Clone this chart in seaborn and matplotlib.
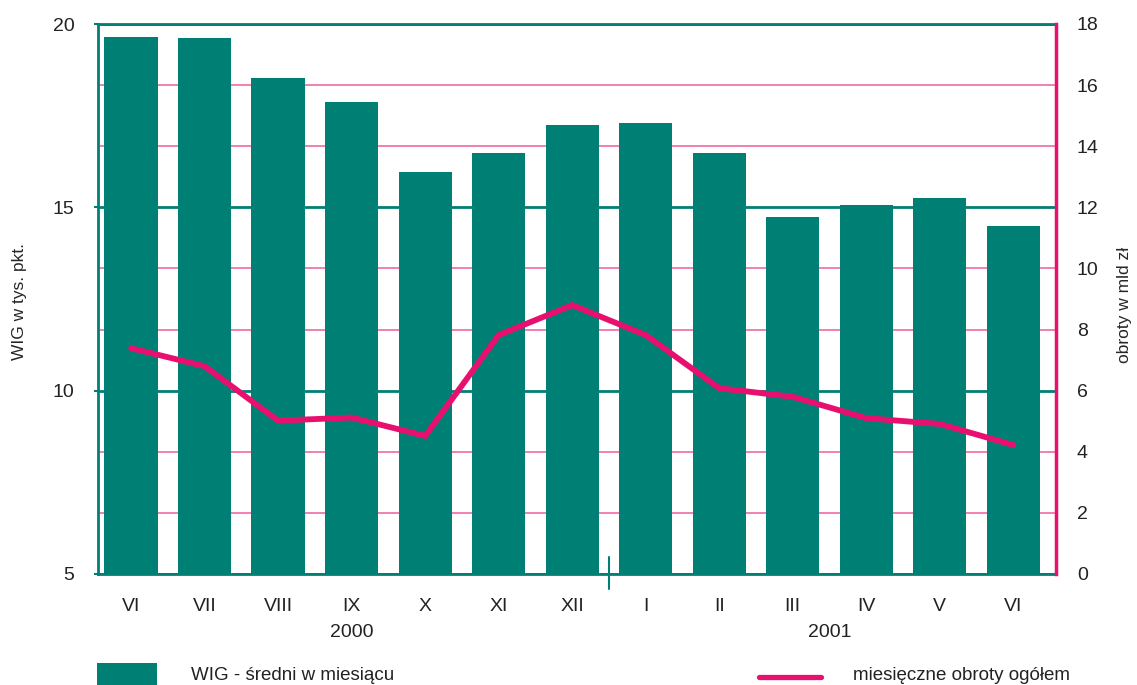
import numpy as np
import pandas as pd
import matplotlib.pyplot as plt
import seaborn as sns
from matplotlib.patches import Rectangle
from matplotlib.lines import Line2D
from matplotlib.ticker import FixedLocator

# dane: WIG (lewa oś) i obroty (prawa oś)
months = ['VI', 'VII', 'VIII', 'IX', 'X', 'XI', 'XII', 'I', 'II', 'III', 'IV', 'V', 'VI']
wig = [19.65, 19.62, 18.53, 17.87, 15.96, 16.48, 17.25, 17.30, 16.48, 14.74, 15.06, 15.25, 14.49]
obroty = [7.39, 6.80, 5.02, 5.12, 4.52, 7.82, 8.80, 7.82, 6.08, 5.80, 5.10, 4.91, 4.22]
years = ['2000', '2001']
year_pos = [3, 9.5]

TEAL = '#008074'
PINK = '#E8106F'
PINK_GRID = '#F06AA6'

sns.set_theme(style='white')
plt.rcParams['font.family'] = ['Liberation Sans', 'DejaVu Sans']
plt.rcParams['text.color'] = '#222222'
plt.rcParams['xtick.color'] = TEAL
plt.rcParams['ytick.color'] = TEAL
plt.rcParams['xtick.labelcolor'] = '#222222'
plt.rcParams['ytick.labelcolor'] = '#222222'

df = pd.DataFrame({'idx': np.arange(len(months)), 'wig': wig, 'obroty': obroty})

fig, ax = plt.subplots(figsize=(11.37, 6.85), dpi=100)
fig.subplots_adjust(left=98/1137, right=1056/1137, bottom=1-574/685, top=1-24/685)

sns.barplot(data=df, x='idx', y='wig', color=TEAL, saturation=1, width=0.725,
            linewidth=0, ax=ax, zorder=2)
ax.set_xlim(-0.45, 12.58)
ax.set_ylim(5, 20)
ax.set_yticks([5, 10, 15, 20])
# siatka prawej osi przeliczona na skalę lewej (rysowana pod słupkami)
ax.yaxis.set_minor_locator(FixedLocator([5 + v * 15 / 18 for v in [2, 4, 8, 10, 14, 16]]))
ax.set_axisbelow(True)
ax.grid(which='major', axis='y', color=TEAL, lw=2)
ax.grid(which='minor', axis='y', color=PINK_GRID, lw=1.2)
ax.grid(which='major', axis='x', visible=False)

ax.set_xticks(range(len(months)))
ax.set_xticklabels(months)
ax.xaxis.set_minor_locator(FixedLocator([i + 0.5 for i in range(12) if i != 6]))
ax.tick_params(axis='x', which='major', length=0, pad=17, labelsize=14)
ax.tick_params(axis='x', which='minor', direction='in', length=13, width=1.5, color=TEAL)
ax.tick_params(axis='y', which='major', length=3, width=1.5, pad=14, labelsize=14)
ax.tick_params(axis='y', which='minor', length=0)
ax.set_xlabel('')
ax.set_ylabel('WIG w tys. pkt.', fontsize=12.5)
ax.yaxis.set_label_coords(-0.074, 0.496)

# separator lat
ax.plot([6.5, 6.5], [-0.027, 0.031], color=TEAL, lw=1.5, clip_on=False,
        transform=ax.get_xaxis_transform())
for y, p in zip(years, year_pos):
    ax.text(p, -0.107, y, ha='center', va='center', fontsize=14,
            transform=ax.get_xaxis_transform())

for s in ['left', 'bottom', 'top']:
    ax.spines[s].set_color(TEAL)
    ax.spines[s].set_linewidth(2)
ax.spines['right'].set_visible(False)

ax2 = ax.twinx()
sns.lineplot(data=df, x='idx', y='obroty', color=PINK, lw=4.2, ax=ax2,
             solid_capstyle='round', solid_joinstyle='miter')
ax2.set_ylim(0, 18)
ax2.set_yticks(range(0, 19, 2))
ax2.tick_params(axis='y', length=0, pad=15, labelsize=14)
ax2.set_ylabel('obroty w mld zł', fontsize=12.5)
ax2.yaxis.set_label_coords(1.064, 0.49)
ax2.grid(False)
for s in ['left', 'bottom', 'top']:
    ax2.spines[s].set_visible(False)
ax2.spines['right'].set_color(PINK)
ax2.spines['right'].set_linewidth(2.5)
ax2.set_xlim(-0.45, 12.58)

# legenda
fig.add_artist(Rectangle((97/1137, 0), 60/1137, 22/685, transform=fig.transFigure,
                         color=TEAL, lw=0))
fig.text(191/1137, 1-675/685, 'WIG - średni w miesiącu', fontsize=13.5, va='center')
fig.add_artist(Line2D([759/1137, 821/1137], [1-677/685, 1-677/685],
                      transform=fig.transFigure, color=PINK, lw=3.8))
fig.text(853/1137, 1-675/685, 'miesięczne obroty ogółem', fontsize=13.5, va='center')

plt.savefig('out.png', dpi=100)
